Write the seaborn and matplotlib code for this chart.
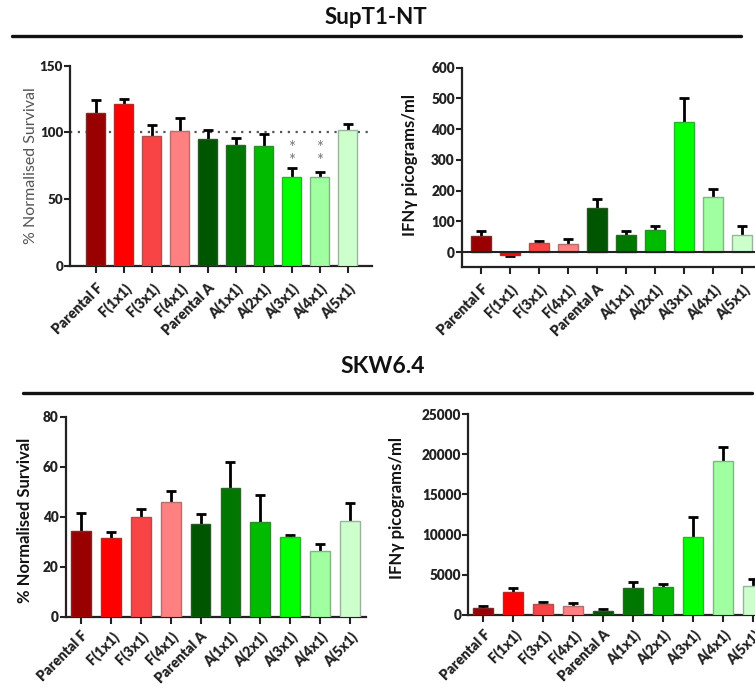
import matplotlib
matplotlib.use("Agg")
import matplotlib.pyplot as plt
import seaborn as sns
import numpy as np
from matplotlib.lines import Line2D
from matplotlib.colors import to_rgb

sns.set_theme(style="white")
plt.rcParams['font.family'] = ['Lato', 'DejaVu Sans']

categories = ["Parental F", "F(1x1)", "F(3x1)", "F(4x1)", "Parental A",
              "A(1x1)", "A(2x1)", "A(3x1)", "A(4x1)", "A(5x1)"]
bar_colors = ["#990000", "#ff0000", "#f84444", "#ff8080", "#005500",
              "#007700", "#00bb00", "#00ff00", "#a0ffa0", "#ccffcc"]

supt1_surv = [114.3, 121.3, 97.5, 101.0, 94.8, 90.3, 89.8, 66.8, 66.8, 101.8]
supt1_surv_err = [10.0, 4.0, 8.0, 9.8, 7.0, 5.2, 8.7, 6.2, 3.5, 4.2]
supt1_ifn = [53, -9, 29, 27, 144, 57, 72, 422, 179, 57]
supt1_ifn_err = [16, 3, 9, 15, 28, 11, 12, 80, 28, 29]
skw_surv = [34.3, 31.6, 39.9, 46.0, 37.2, 51.5, 37.8, 31.9, 26.3, 38.3]
skw_surv_err = [7.0, 2.1, 3.0, 4.1, 3.8, 10.5, 10.7, 0.8, 2.9, 7.0]
skw_ifn = [908, 2898, 1331, 1082, 535, 3396, 3520, 9701, 19154, 3607]
skw_ifn_err = [250, 500, 250, 370, 210, 750, 370, 2490, 1780, 870]

sig_marks = ["", "", "", "", "", "", "", "**", "**", ""]

W, H = 755, 688
fig = plt.figure(figsize=(W / 100, H / 100), dpi=100)


def add_ax(left_px, top_px, right_px, bottom_px):
    return fig.add_axes([left_px / W, 1 - bottom_px / H,
                         (right_px - left_px) / W, (bottom_px - top_px) / H])


def edge_of(c):
    r, g, b = to_rgb(c)
    k = 0.16
    return (0.55 * r + k, 0.55 * g + k, 0.55 * b + k)


def draw(ax, vals, errs, ylim, yticks, xlim, ylabel, label_x, label_y,
         label_color="#111111", label_weight="bold", label_size=12,
         tick_size=9.8, xtick_size=10.2, xpad=6):
    sns.barplot(x=categories, y=vals, hue=categories, palette=bar_colors,
                legend=False, ax=ax, width=0.66, saturation=1, zorder=3)
    for p, c in zip(ax.patches, bar_colors):
        p.set_edgecolor(edge_of(c))
        p.set_linewidth(1.0)
        p.set_zorder(3)
    ax.errorbar(np.arange(len(categories)), vals, yerr=errs, fmt="none",
                ecolor="black", elinewidth=2.0, capsize=3.8, capthick=2.0,
                zorder=2)
    ax.set_ylim(*ylim)
    ax.set_yticks(yticks)
    ax.set_xlim(*xlim)
    for s in ["top", "right"]:
        ax.spines[s].set_visible(False)
    for s in ["left", "bottom"]:
        ax.spines[s].set_color("#222222")
        ax.spines[s].set_linewidth(1.6)
    ax.tick_params(axis="y", direction="out", length=4, width=1.5,
                   color="#222222", labelsize=tick_size, pad=1, left=True)
    ax.tick_params(axis="x", direction="out", length=5, width=1.5,
                   color="#222222", labelsize=xtick_size, pad=xpad, bottom=True)
    for t in ax.get_yticklabels():
        t.set_fontweight("heavy")
        t.set_color("#222222")
    ax.set_xticks(range(len(categories)))
    ax.set_xticklabels(categories, rotation=45, ha="right",
                       rotation_mode="anchor", fontweight="heavy",
                       color="#222222", fontsize=xtick_size)
    ax.set_xlabel("")
    ax.set_ylabel(ylabel, color=label_color, fontweight=label_weight,
                  fontsize=label_size)
    ax.yaxis.set_label_coords(label_x, label_y)
    ax.grid(False)
    ax.set_facecolor("none")


# SupT1-NT survival
ax1 = add_ax(70, 65.7, 371.7, 265.7)
draw(ax1, supt1_surv, supt1_surv_err, (0, 150), [0, 50, 100, 150],
     (-0.918, 9.857), "% Normalised Survival", -0.106, 0.5,
     label_color="#555555", label_weight="normal", label_size=11.5,
     tick_size=9.6, xpad=6)
ax1.axhline(100, color="#555555", linestyle=(0, (1, 2.5)), lw=1.6, zorder=1)
for i, m in enumerate(sig_marks):
    if m:
        ax1.text(i, 83.5, "*\n*", ha="center", va="center", color="#777777",
                 fontsize=12, linespacing=0.72)

# SupT1-NT IFN
ax2 = add_ax(461.7, 67.7, 771, 266.7)
draw(ax2, supt1_ifn, supt1_ifn_err, (-47, 600), [0, 100, 200, 300, 400, 500, 600],
     (-0.665, 10.0), "IFN\u03b3 picograms/ml", -0.141, 0.511, xpad=6)
ax2.axhline(0, color="#222222", lw=1.5, zorder=4)

# SKW6.4 survival
ax3 = add_ax(65.7, 416.7, 365.7, 616.7)
draw(ax3, skw_surv, skw_surv_err, (0, 80), [0, 20, 40, 60, 80],
     (-0.512, 9.525), "% Normalised Survival", -0.109, 0.483,
     xtick_size=10.0, xpad=4)

# SKW6.4 IFN
ax4 = add_ax(468.3, 414, 780, 615)
draw(ax4, skw_ifn, skw_ifn_err, (0, 25000), [0, 5000, 10000, 15000, 20000, 25000],
     (-0.5, 9.9), "IFN\u03b3 picograms/ml", -0.203, 0.532,
     xtick_size=10.0, xpad=4)

# Section titles and rules
fig.text(376 / W, 1 - 18 / H, "SupT1-NT", ha="center", va="center",
         fontsize=16, fontweight="bold", color="#111111")
fig.add_artist(Line2D([12 / W, 741 / W], [1 - 36 / H, 1 - 36 / H],
                      color="#111111", lw=2.4, transform=fig.transFigure))
fig.text(383 / W, 1 - 367 / H, "SKW6.4", ha="center", va="center",
         fontsize=16.5, fontweight="bold", color="#111111")
fig.add_artist(Line2D([22.7 / W, 751.7 / W], [1 - 393 / H, 1 - 393 / H],
                      color="#111111", lw=2.4, transform=fig.transFigure))

fig.savefig("out.png", dpi=100)
